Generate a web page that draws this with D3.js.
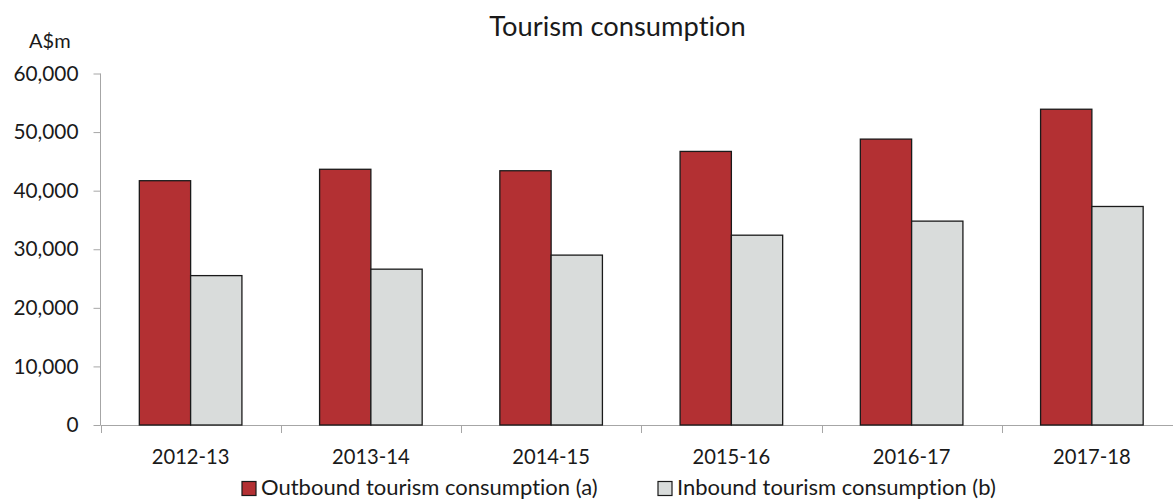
<!DOCTYPE html>
<html><head><meta charset="utf-8">
<script src="https://cdn.jsdelivr.net/npm/d3@7"></script>
<style>
body{margin:0;background:#fff}
svg{display:block}
text{font-family:Lato, "Open Sans", sans-serif; fill:#1a1a1a; font-variant-ligatures:none; font-feature-settings:"liga" 0}
</style>
</head><body>
<svg id="c" width="1173" height="500"></svg>
<script>
const categories = ["2012-13","2013-14","2014-15","2015-16","2016-17","2017-18"];
const seriesNames = ["Outbound tourism consumption (a)","Inbound tourism consumption (b)"];
const outbound = [41700, 43650, 43400, 46700, 48800, 53900];
const inbound = [25500, 26600, 29000, 32400, 34800, 37300];
const yTicks = [0, 10000, 20000, 30000, 40000, 50000, 60000];
const title = "Tourism consumption";
const yUnit = "A$m";

const colors = ["#b33033", "#d9dcdb"];
const seriesData = [outbound, inbound];

const svg = d3.select("#c");
const x0 = d3.scaleBand().domain(categories).range([100.5, 1182]).padding(0);
const x1 = d3.scaleBand().domain(seriesNames).range([0, x0.bandwidth()]).paddingInner(0).paddingOuter(0.757);
const y = d3.scaleLinear().domain([0, 60000]).range([425, 73.5]);
const color = d3.scaleOrdinal().domain(seriesNames).range(colors);

// y axis
const yAxis = svg.append("g").attr("transform", "translate(100.5,0)")
  .call(d3.axisLeft(y).tickValues(yTicks).tickSize(7).tickPadding(15).tickFormat(d3.format(",")));
yAxis.select(".domain").attr("stroke", "#a6a6a6").attr("d", `M0,${y(60000)}V${y(0)}`);
yAxis.selectAll(".tick line").attr("stroke", "#a6a6a6");
yAxis.selectAll(".tick text").attr("font-size", 20.8).attr("font-family", "Lato").attr("fill", "#1a1a1a");

// x axis
const xg = svg.append("g");
xg.append("line").attr("x1", 100.5).attr("x2", 1173).attr("y1", 425.5).attr("y2", 425.5).attr("stroke", "#a6a6a6");
xg.selectAll("line.tk").data(categories).join("line").attr("class", "tk")
  .attr("x1", d => Math.round(x0(d)) + 0.5).attr("x2", d => Math.round(x0(d)) + 0.5)
  .attr("y1", 425).attr("y2", 433).attr("stroke", "#a6a6a6");
xg.selectAll("text").data(categories).join("text")
  .attr("x", d => x0(d) + x0.bandwidth() / 2).attr("y", 464)
  .attr("text-anchor", "middle").attr("font-size", 20.2).text(d => d);

// bars
const groups = svg.append("g").selectAll("g").data(categories).join("g")
  .attr("transform", d => `translate(${x0(d)},0)`);
groups.selectAll("rect").data((d, i) => seriesNames.map((s, j) => ({s, v: seriesData[j][i]})))
  .join("rect")
  .attr("x", d => x1(d.s)).attr("width", x1.bandwidth())
  .attr("y", d => y(d.v)).attr("height", d => y(0) - y(d.v))
  .attr("fill", d => color(d.s)).attr("stroke", "#1a1a1a").attr("stroke-width", 1.3);

// title and unit
svg.append("text").attr("x", 617.5).attr("y", 36).attr("text-anchor", "middle").attr("font-size", 27.3).text(title);
svg.append("text").attr("x", 29).attr("y", 48).attr("font-size", 20).text(yUnit);

// legend
const legendX = [242, 658];
const lg = svg.append("g").selectAll("g").data(seriesNames).join("g")
  .attr("transform", (d, i) => `translate(${legendX[i]},481.5)`);
lg.append("rect").attr("width", 14).attr("height", 14).attr("fill", d => color(d)).attr("stroke", "#1a1a1a").attr("stroke-width", 1.2);
lg.append("text").attr("x", 19).attr("y", 13.5).attr("font-size", 22).text(d => d);
</script>
</body></html>
